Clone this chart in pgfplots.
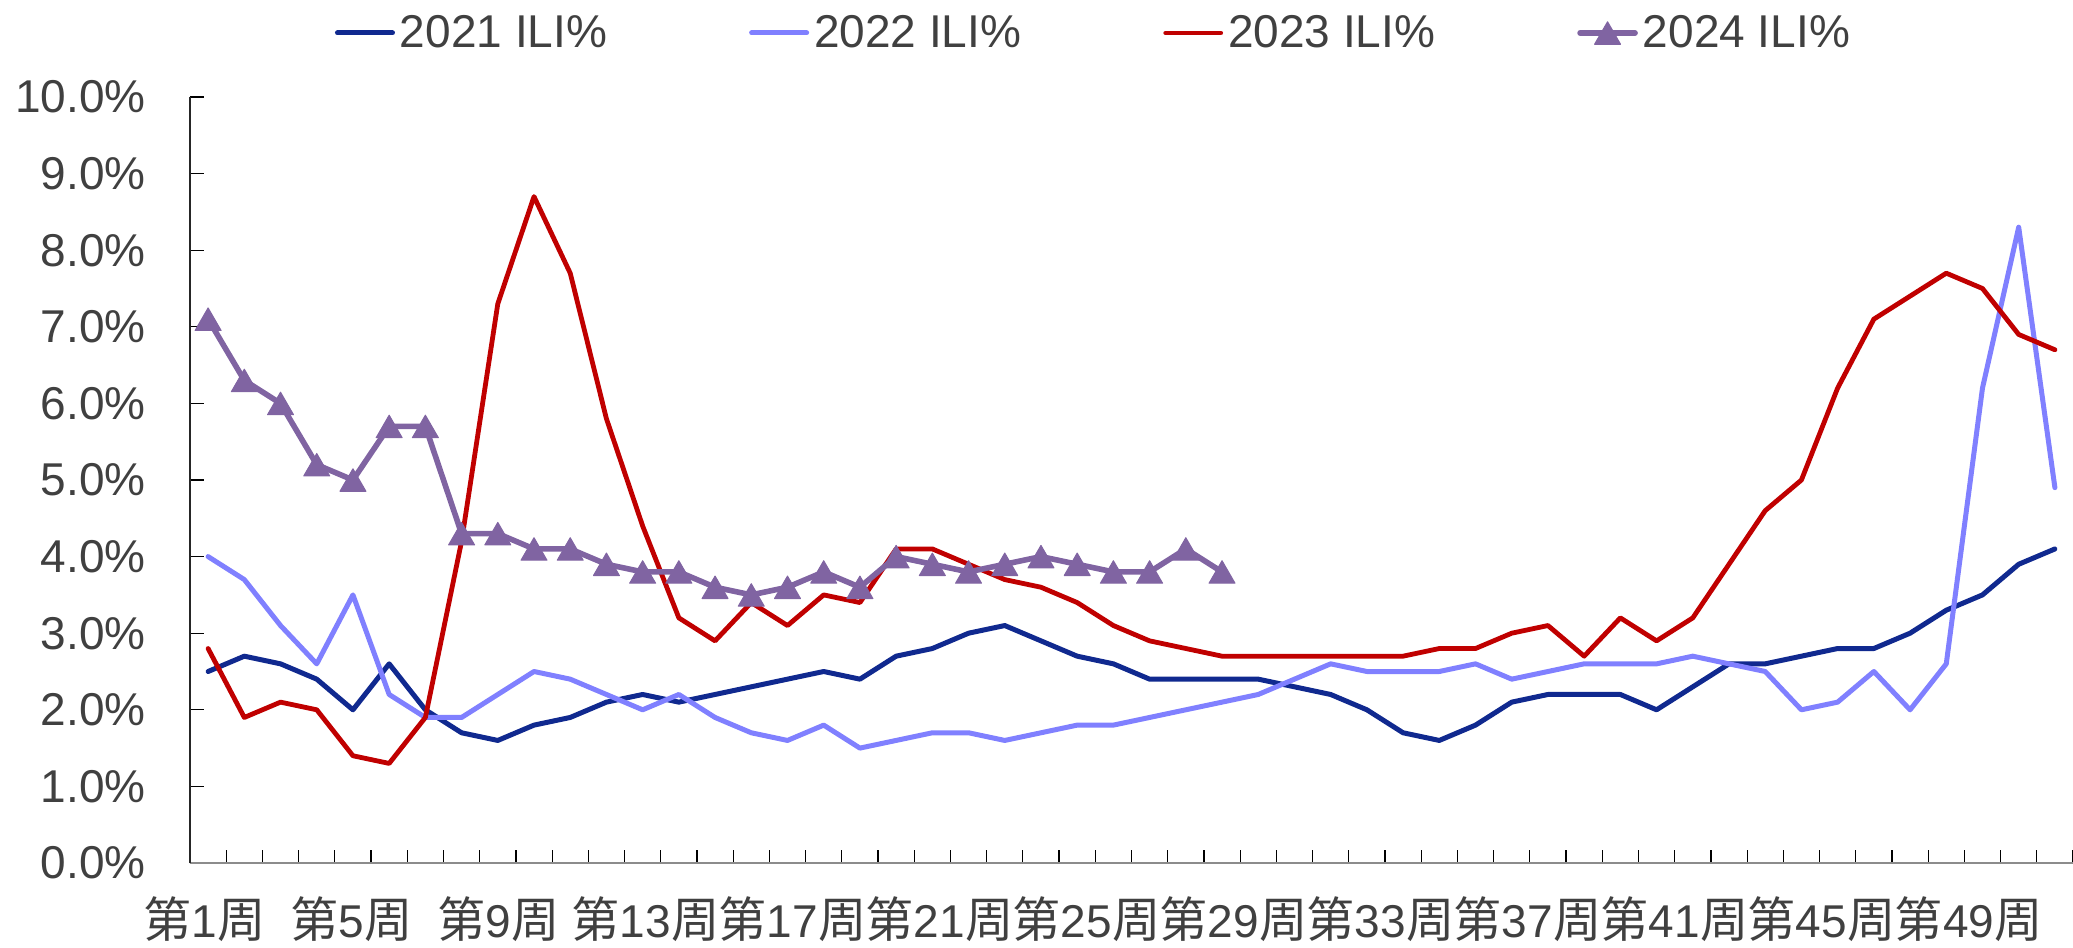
\documentclass[border=0pt]{standalone}
\usepackage{pgfplots}
\pgfplotsset{compat=1.18}
\usepackage{fontspec}
\setmainfont{Liberation Sans}
\newfontfamily\cjk[Scale=1.05]{Noto Sans CJK SC}
\usetikzlibrary{calc}
\definecolor{c21}{RGB}{16,41,143}
\definecolor{c22}{RGB}{128,128,255}
\definecolor{c23}{RGB}{192,0,0}
\definecolor{c24}{RGB}{128,100,162}
\definecolor{txt}{RGB}{64,64,64}
\newcommand{\wk}[1]{{\cjk 第}#1{\cjk 周}}
\newcommand{\fs}{\fontsize{23pt}{27pt}\selectfont}
\begin{document}
\begin{tikzpicture}
\begin{axis}[name=ax, scale only axis, width=941.5pt, height=383pt,
  xmin=0.5, xmax=52.5, ymin=0, ymax=10,
  axis x line=bottom, axis y line=left, axis line style={-},
  x axis line style={draw=black!45, line width=0.8pt},
  y axis line style={draw=black!85, line width=0.8pt},
  tick align=inside, major tick length=6.75pt, minor tick length=6.75pt,
  tick style={black, line width=0.6pt},
  major x tick style={draw=none},
  xtick={0.900,4.960,9.019,13.079,17.139,21.198,25.258,29.318,33.377,37.437,41.497,45.556,49.616},
  xticklabels={\wk{1},\wk{5},\wk{9},\wk{13},\wk{17},\wk{21},\wk{25},\wk{29},\wk{33},\wk{37},\wk{41},\wk{45},\wk{49}},
  minor xtick={0.5,1.5,...,52.5},
  xticklabel style={anchor=north, inner sep=0pt, yshift=-16.5pt, font=\fs, text=txt},
  ytick={0,1,...,10},
  yticklabels={0.0\%,1.0\%,2.0\%,3.0\%,4.0\%,5.0\%,6.0\%,7.0\%,8.0\%,9.0\%,10.0\%},
  yticklabel style={anchor=east, inner sep=0pt, xshift=-22pt, font=\fs, text=txt},
  legend columns=4,
  legend style={at={(0.077,1.0836)}, anchor=west, draw=none, fill=none, inner sep=0pt, outer sep=0pt,
    font=\fs, text=txt, nodes={inner sep=0pt},
    /tikz/every even column/.append style={column sep=71pt},
    /tikz/every odd column/.append style={column sep=2.5pt}},
  legend cell align=left,
  legend image code/.code={\draw[#1, mark repeat=2, mark phase=2] plot coordinates {(0pt,0pt) (13.75pt,0pt) (27.5pt,0pt)};},
  every axis plot/.append style={line join=round, line cap=round},
  clip=false,
]
\addplot[c21, line width=2.5pt, mark=none] coordinates {
(1,2.5)(2,2.7)(3,2.6)(4,2.4)(5,2.0)(6,2.6)(7,2.0)(8,1.7)(9,1.6)(10,1.8)
(11,1.9)(12,2.1)(13,2.2)(14,2.1)(15,2.2)(16,2.3)(17,2.4)(18,2.5)(19,2.4)(20,2.7)
(21,2.8)(22,3.0)(23,3.1)(24,2.9)(25,2.7)(26,2.6)(27,2.4)(28,2.4)(29,2.4)(30,2.4)
(31,2.3)(32,2.2)(33,2.0)(34,1.7)(35,1.6)(36,1.8)(37,2.1)(38,2.2)(39,2.2)(40,2.2)
(41,2.0)(42,2.3)(43,2.6)(44,2.6)(45,2.7)(46,2.8)(47,2.8)(48,3.0)(49,3.3)(50,3.5)
(51,3.9)(52,4.1)};
\addlegendentry{2021 ILI\%}
\addplot[c22, line width=2.5pt, mark=none] coordinates {
(1,4.0)(2,3.7)(3,3.1)(4,2.6)(5,3.5)(6,2.2)(7,1.9)(8,1.9)(9,2.2)(10,2.5)
(11,2.4)(12,2.2)(13,2.0)(14,2.2)(15,1.9)(16,1.7)(17,1.6)(18,1.8)(19,1.5)(20,1.6)
(21,1.7)(22,1.7)(23,1.6)(24,1.7)(25,1.8)(26,1.8)(27,1.9)(28,2.0)(29,2.1)(30,2.2)
(31,2.4)(32,2.6)(33,2.5)(34,2.5)(35,2.5)(36,2.6)(37,2.4)(38,2.5)(39,2.6)(40,2.6)
(41,2.6)(42,2.7)(43,2.6)(44,2.5)(45,2.0)(46,2.1)(47,2.5)(48,2.0)(49,2.6)(50,6.2)
(51,8.3)(52,4.9)};
\addlegendentry{2022 ILI\%}
\addplot[c23, line width=2.4pt, mark=none] coordinates {
(1,2.8)(2,1.9)(3,2.1)(4,2.0)(5,1.4)(6,1.3)(7,1.9)(8,4.2)(9,7.3)(10,8.7)
(11,7.7)(12,5.8)(13,4.4)(14,3.2)(15,2.9)(16,3.4)(17,3.1)(18,3.5)(19,3.4)(20,4.1)
(21,4.1)(22,3.9)(23,3.7)(24,3.6)(25,3.4)(26,3.1)(27,2.9)(28,2.8)(29,2.7)(30,2.7)
(31,2.7)(32,2.7)(33,2.7)(34,2.7)(35,2.8)(36,2.8)(37,3.0)(38,3.1)(39,2.7)(40,3.2)
(41,2.9)(42,3.2)(43,3.9)(44,4.6)(45,5.0)(46,6.2)(47,7.1)(48,7.4)(49,7.7)(50,7.5)
(51,6.9)(52,6.7)};
\addlegendentry{2023 ILI\%}
\addplot[c24, line width=2.8pt, mark=triangle*, mark size=7.5pt,
  mark options={fill=c24, draw=c24, line width=0.5pt, yshift=-1.9pt}] coordinates {
(1,7.1)(2,6.3)(3,6.0)(4,5.2)(5,5.0)(6,5.7)(7,5.7)(8,4.3)(9,4.3)(10,4.1)
(11,4.1)(12,3.9)(13,3.8)(14,3.8)(15,3.6)(16,3.5)(17,3.6)(18,3.8)(19,3.6)(20,4.0)
(21,3.9)(22,3.8)(23,3.9)(24,4.0)(25,3.9)(26,3.8)(27,3.8)(28,4.1)(29,3.8)};
\addlegendentry{2024 ILI\%}
\end{axis}
\pgfresetboundingbox
\path[use as bounding box] ($(ax.south west)+(-95pt,-42pt)$) rectangle ($(ax.north east)+(0pt,48.5pt)$);
\end{tikzpicture}
\end{document}
